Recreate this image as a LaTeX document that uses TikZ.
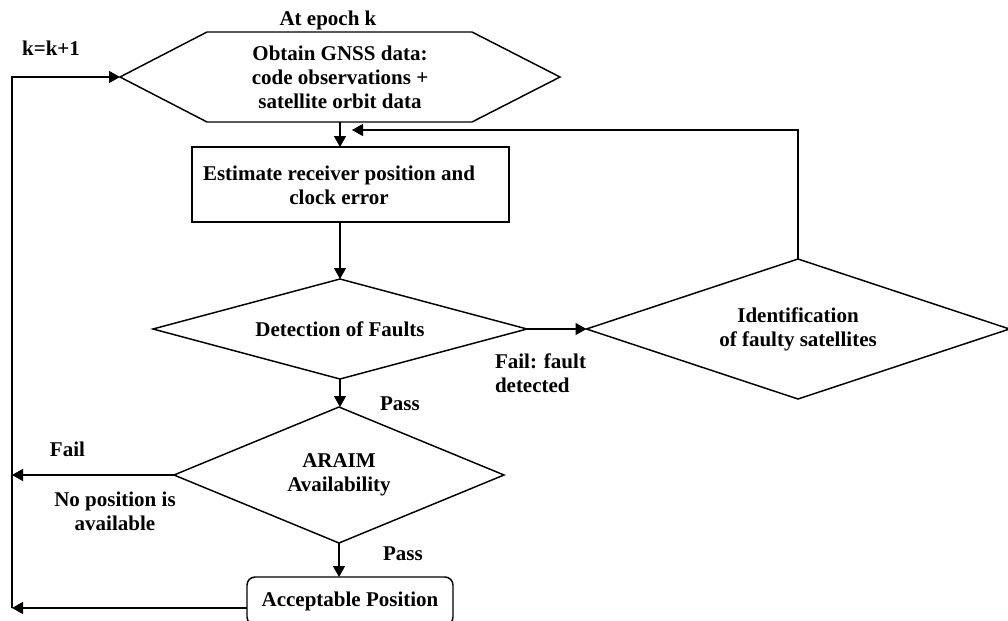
\documentclass[tikz,border=0pt]{standalone}
\usepackage{fontspec}
\setmainfont{Liberation Serif}
\usetikzlibrary{arrows.meta,shapes.geometric,calc}
\tikzset{
  txt/.style={font=\fontsize{15.75pt}{18pt}\selectfont\bfseries, align=center, inner sep=0pt, outer sep=0pt},
  ln/.style={line width=1.1pt},
  arr/.style={line width=1.1pt, -{Triangle[length=8.25pt,width=9pt]}},
  boxnode/.style={draw, line width=1.1pt, inner sep=0pt, outer sep=0pt},
  decision/.style={boxnode, txt, diamond},
}
\begin{document}
\begin{tikzpicture}[x=0.75pt,y=-0.75pt]
\path[use as bounding box, clip] (0,0) rectangle (1008,621);

% input block (hexagon) with its caption
\node[txt, minimum width=330pt, minimum height=67.5pt] (obtain) at (340,77)
  {Obtain GNSS data:\\code observations +\\satellite orbit data};
\draw[ln, line join=miter] (obtain.west) -- ($(obtain.north west)+(87,0)$) -- ($(obtain.north east)+(-88,0)$)
  -- (obtain.east) -- ($(obtain.south east)+(-88,0)$) -- ($(obtain.south west)+(87,0)$) -- cycle;
\node[txt] (epoch) at (328,20) {At epoch k};
\node[txt] (kinc) at (51,48) {k=k+1};

% processing steps
\node[boxnode, minimum width=237.75pt, minimum height=56.25pt] (estimate) at (350.5,184.5) {};
\node[txt] (estimatetxt) at (339,185) {Estimate receiver position and\\clock error};

\node[decision, aspect=3.74, minimum width=280.5pt, minimum height=75pt] (detect) at (340,329) {Detection of Faults};
\node[decision, aspect=3.02, minimum width=317.25pt, minimum height=105pt] (ident) at (798,329) {Identification\\of faulty satellites};
\node[decision, aspect=2.43, minimum width=247.5pt, minimum height=102pt] (araim) at (339,475) {ARAIM\\Availability};
\node[boxnode, txt, rounded corners=6pt, minimum width=154.5pt, minimum height=36pt] (accept) at (350,601) {Acceptable Position};

% branch labels
\node[txt, anchor=west] (passA) at (380,404) {Pass};
\node[txt, anchor=west] (passB) at (383,554) {Pass};
\node[txt, anchor=west] (failA) at (50,449) {Fail};
\node[txt] (nopos) at (115,511) {No position is\\available};
\node[txt, anchor=west, align=left] (failB) at (495,373.5) {Fail: fault\\detected};

% loop-back points
\coordinate (loopT) at (12,77);
\coordinate (loopB) at (12,608);
\coordinate (failEnd) at (12,475);
\coordinate (fbTip) at (352,130);

% connectors
\draw[arr] (loopB) -- (loopT) -- (obtain.west);
\draw[arr] (obtain.south) -- (obtain.south |- estimate.north);
\draw[arr] (estimate.south -| detect.north) -- (detect.north);
\draw[arr] (detect.east) -- (ident.west);
\draw[arr] (ident.north) |- (fbTip);
\draw[arr] (detect.south) -- (detect.south |- araim.north);
\draw[arr] (araim.west) -- (failEnd);
\draw[arr] (araim.south) -- (araim.south |- accept.north);
\draw[arr] ($(accept.west)+(0,7)$) -- (loopB);
\end{tikzpicture}
\end{document}
